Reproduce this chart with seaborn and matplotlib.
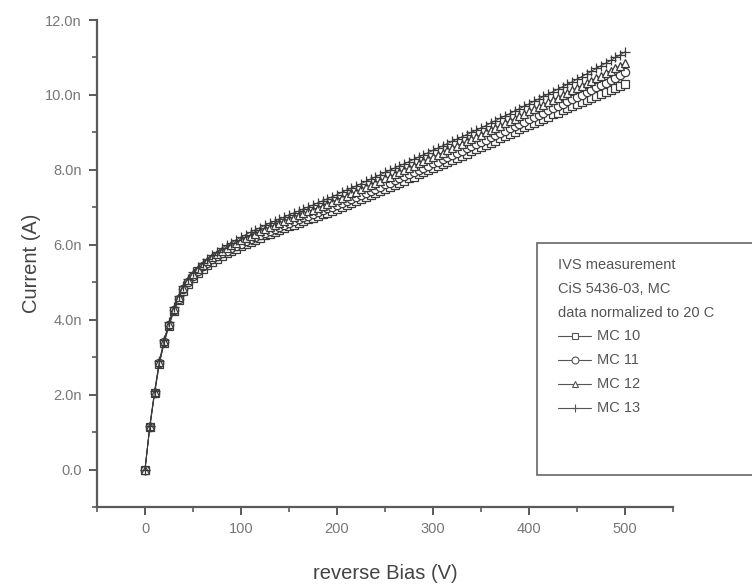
import matplotlib
matplotlib.use('Agg')
import matplotlib.pyplot as plt
import seaborn as sns
from matplotlib.lines import Line2D
from matplotlib.patches import Rectangle
from matplotlib.ticker import MultipleLocator, FuncFormatter

# reverse bias (V), 5 V steps
bias = list(range(0, 505, 5))

# current in nA
mc10 = [0.00, 1.13, 2.03, 2.83, 3.38, 3.83, 4.22, 4.52, 4.76, 4.96, 5.12,
        5.25, 5.36, 5.46, 5.55, 5.63, 5.71, 5.78, 5.84, 5.90, 5.96,
        6.02, 6.08, 6.14, 6.19, 6.25, 6.30, 6.35, 6.40, 6.45, 6.50,
        6.54, 6.59, 6.63, 6.68, 6.72, 6.77, 6.82, 6.86, 6.91, 6.96,
        7.01, 7.06, 7.11, 7.16, 7.22, 7.27, 7.33, 7.38, 7.44, 7.49,
        7.55, 7.60, 7.66, 7.71, 7.77, 7.82, 7.88, 7.93, 7.99, 8.04,
        8.10, 8.15, 8.21, 8.26, 8.32, 8.38, 8.43, 8.49, 8.55, 8.60,
        8.66, 8.72, 8.78, 8.84, 8.90, 8.96, 9.02, 9.08, 9.14, 9.20,
        9.26, 9.31, 9.37, 9.42, 9.48, 9.53, 9.59, 9.64, 9.70, 9.75,
        9.81, 9.86, 9.92, 9.97, 10.03, 10.08, 10.14, 10.19, 10.25, 10.30]

mc11 = [0.00, 1.14, 2.05, 2.85, 3.41, 3.86, 4.26, 4.56, 4.81, 5.01, 5.17,
        5.30, 5.42, 5.52, 5.61, 5.69, 5.77, 5.84, 5.91, 5.97, 6.03,
        6.09, 6.15, 6.21, 6.27, 6.32, 6.38, 6.43, 6.48, 6.53, 6.58,
        6.63, 6.68, 6.73, 6.77, 6.82, 6.87, 6.92, 6.97, 7.02, 7.07,
        7.12, 7.17, 7.23, 7.28, 7.33, 7.39, 7.44, 7.50, 7.55, 7.61,
        7.66, 7.72, 7.77, 7.83, 7.88, 7.94, 8.00, 8.05, 8.11, 8.17,
        8.22, 8.28, 8.34, 8.40, 8.45, 8.51, 8.57, 8.63, 8.69, 8.75,
        8.81, 8.87, 8.93, 8.99, 9.05, 9.11, 9.17, 9.23, 9.29, 9.35,
        9.41, 9.47, 9.53, 9.59, 9.65, 9.71, 9.77, 9.83, 9.89, 9.95,
        10.01, 10.07, 10.13, 10.20, 10.26, 10.33, 10.40, 10.46, 10.53, 10.60]

mc12 = [0.00, 1.15, 2.07, 2.87, 3.44, 3.89, 4.29, 4.60, 4.85, 5.05, 5.21,
        5.35, 5.47, 5.57, 5.67, 5.76, 5.84, 5.92, 5.99, 6.06, 6.12,
        6.18, 6.24, 6.30, 6.36, 6.42, 6.47, 6.53, 6.58, 6.63, 6.69,
        6.74, 6.79, 6.84, 6.89, 6.94, 6.99, 7.04, 7.10, 7.15, 7.20,
        7.26, 7.31, 7.37, 7.42, 7.48, 7.54, 7.59, 7.65, 7.71, 7.77,
        7.82, 7.88, 7.94, 8.00, 8.05, 8.11, 8.17, 8.23, 8.29, 8.34,
        8.40, 8.46, 8.52, 8.58, 8.64, 8.70, 8.76, 8.82, 8.88, 8.94,
        9.00, 9.06, 9.12, 9.18, 9.25, 9.31, 9.37, 9.43, 9.49, 9.56,
        9.62, 9.68, 9.74, 9.81, 9.87, 9.93, 10.00, 10.06, 10.12, 10.19,
        10.25, 10.32, 10.38, 10.45, 10.51, 10.58, 10.65, 10.71, 10.78, 10.85]

mc13 = [0.00, 1.17, 2.10, 2.90, 3.47, 3.93, 4.33, 4.64, 4.89, 5.09, 5.26,
        5.40, 5.52, 5.63, 5.73, 5.82, 5.91, 5.99, 6.06, 6.13, 6.20,
        6.27, 6.34, 6.40, 6.46, 6.52, 6.58, 6.63, 6.69, 6.74, 6.80,
        6.85, 6.90, 6.96, 7.01, 7.06, 7.12, 7.17, 7.23, 7.28, 7.34,
        7.40, 7.46, 7.51, 7.57, 7.63, 7.69, 7.75, 7.81, 7.87, 7.93,
        7.99, 8.05, 8.11, 8.16, 8.22, 8.28, 8.34, 8.40, 8.46, 8.52,
        8.58, 8.64, 8.70, 8.76, 8.82, 8.88, 8.94, 9.00, 9.06, 9.12,
        9.18, 9.25, 9.31, 9.38, 9.44, 9.50, 9.57, 9.63, 9.70, 9.76,
        9.83, 9.89, 9.96, 10.02, 10.09, 10.15, 10.22, 10.28, 10.35, 10.42,
        10.49, 10.56, 10.63, 10.71, 10.78, 10.85, 10.92, 11.00, 11.07, 11.15]

labels = ['MC 10', 'MC 11', 'MC 12', 'MC 13']
markers = ['s', 'o', '^', '+']
header = ['IVS measurement', 'CiS 5436-03, MC', 'data normalized to 20 C']

sns.set_style('ticks')
plt.rcParams['font.family'] = ['Liberation Sans', 'DejaVu Sans']

W, H = 752, 588
fig = plt.figure(figsize=(W / 100, H / 100), dpi=100)
ax = fig.add_axes([97 / W, 1 - 507 / H, (673 - 97) / W, (507 - 20) / H])

line_col = '#3a3a3a'
for vals, lab, mk in zip([mc10, mc11, mc12, mc13], labels, markers):
    sns.lineplot(x=bias, y=vals, ax=ax, color=line_col, linewidth=0.7,
                 marker=mk, markersize=6 if mk != '+' else 7,
                 markerfacecolor='white' if mk != '+' else line_col,
                 markeredgecolor=line_col, markeredgewidth=0.9,
                 label=lab, legend=False)

ax.set_xlim(-50, 550)
ax.set_ylim(-1, 12)
ax.xaxis.set_major_locator(MultipleLocator(100))
ax.xaxis.set_minor_locator(MultipleLocator(50))
ax.yaxis.set_major_locator(MultipleLocator(2))
ax.yaxis.set_minor_locator(MultipleLocator(1))
ax.yaxis.set_major_formatter(FuncFormatter(lambda v, p: '0.0' if abs(v) < 1e-9 else f'{v:.1f}n'))

sns.despine(ax=ax)
spine_col = '#5a5a5a'
for s in ['left', 'bottom']:
    ax.spines[s].set_color(spine_col)
    ax.spines[s].set_linewidth(1.6)
ax.tick_params(which='major', direction='out', length=6, width=1.4, color=spine_col,
               labelsize=10.5, labelcolor='#777777', pad=5)
ax.tick_params(which='minor', direction='out', length=3.5, width=1.2, color=spine_col)

ax.set_xlabel('reverse Bias (V)', fontsize=14.5, color='#444444', labelpad=20)
ax.set_ylabel('Current (A)', fontsize=14.5, color='#444444', labelpad=3)

# legend box (runs off the right edge like the original)
fig.patches.append(Rectangle((537 / W, 1 - 475 / H), (800 - 537) / W, (475 - 243) / H,
                             transform=fig.transFigure, facecolor='white',
                             edgecolor='#666666', linewidth=1.2, zorder=5))
y0 = 265
step = 23.8
txt_col = '#555555'
for i, t in enumerate(header):
    fig.text(558 / W, 1 - (y0 + i * step) / H, t, fontsize=10.5, color=txt_col,
             va='center', ha='left', zorder=6)

for j, (lab, mk) in enumerate(zip(labels, markers)):
    yy = 1 - (y0 + (3 + j) * step) / H
    fig.add_artist(Line2D([558 / W, 591 / W], [yy, yy], transform=fig.transFigure,
                          color=txt_col, linewidth=0.8, zorder=6))
    fig.add_artist(Line2D([574.5 / W], [yy], transform=fig.transFigure,
                          linestyle='none', marker=mk,
                          markersize=5 if mk != '+' else 6,
                          markerfacecolor='white' if mk != '+' else txt_col,
                          markeredgecolor=txt_col, markeredgewidth=0.8, zorder=7))
    fig.text(597 / W, yy, lab, fontsize=10.5, color=txt_col, va='center', ha='left', zorder=6)

fig.savefig('out.png', dpi=100)
